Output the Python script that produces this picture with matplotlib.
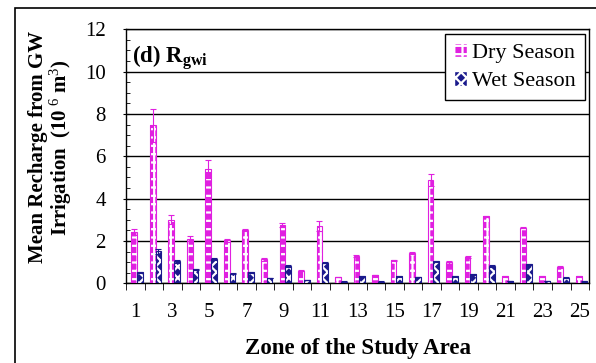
import numpy as np
import matplotlib
matplotlib.use("Agg")
import matplotlib.pyplot as plt
from matplotlib.patches import Rectangle, Patch
from matplotlib.ticker import MultipleLocator

zones = list(range(1, 26))
dry = [2.42, 7.46, 3.00, 2.11, 5.40, 2.03, 2.50, 1.13, 2.75, 0.59,
       2.71, 0.30, 1.28, 0.39, 1.08, 1.44, 4.88, 0.99, 1.25, 3.16,
       0.33, 2.63, 0.34, 0.77, 0.34]
dry_err = [0.16, 0.79, 0.22, 0.11, 0.42, 0.07, 0.05, 0.06, 0.10, 0.03,
           0.23, 0.02, 0.06, 0.02, 0.03, 0.06, 0.30, 0.06, 0.05, 0.04,
           0.02, 0.04, 0.02, 0.03, 0.02]
wet = [0.52, 1.52, 1.03, 0.67, 1.14, 0.45, 0.52, 0.26, 0.81, 0.15,
       0.98, 0.08, 0.34, 0.08, 0.34, 0.30, 1.03, 0.34, 0.42, 0.82,
       0.10, 0.89, 0.10, 0.26, 0.09]
wet_err = [0.02, 0.12, 0.07, 0.02, 0.06, 0.02, 0.02, 0.01, 0.04, 0.01,
           0.03, 0.01, 0.02, 0.01, 0.02, 0.02, 0.04, 0.02, 0.02, 0.03,
           0.01, 0.03, 0.01, 0.02, 0.01]

magenta = "#e020e0"
navy = "#1a1a8c"
plt.rcParams["font.family"] = ["Liberation Serif", "DejaVu Serif"]
plt.rcParams["mathtext.fontset"] = "custom"
plt.rcParams["mathtext.rm"] = "Liberation Serif"
plt.rcParams["mathtext.bf"] = "Liberation Serif:bold"
plt.rcParams["mathtext.it"] = "Liberation Serif:italic"
plt.rcParams["hatch.linewidth"] = 1.6

fig = plt.figure(figsize=(5.96, 3.63), dpi=100)
ax = fig.add_axes([0.2114, 0.2196, 0.9883 - 0.2114, 0.9193 - 0.2196])

x = np.arange(len(zones))
w = 0.31
xd = x + 0.1 - w / 2
xw = x + 0.1 + w / 2

ax.bar(xd, dry, w, color=magenta, edgecolor="white", hatch="++", linewidth=0, zorder=3)
ax.bar(xd, dry, w, fill=False, edgecolor=magenta, linewidth=0.8, zorder=4,
       yerr=dry_err, error_kw=dict(ecolor=magenta, elinewidth=0.8, capsize=2.5, capthick=0.8))
ax.bar(xw, wet, w, color=navy, edgecolor="white", hatch="xxx", linewidth=0, zorder=3)
ax.bar(xw, wet, w, fill=False, edgecolor=navy, linewidth=0.8, zorder=4,
       yerr=wet_err, error_kw=dict(ecolor=navy, elinewidth=0.8, capsize=2.5, capthick=0.8))

ax.set_xlim(-0.5, len(zones) - 0.5)
ax.set_ylim(0, 12)
ax.yaxis.set_major_locator(MultipleLocator(2))
ax.yaxis.set_minor_locator(MultipleLocator(0.5))
ax.grid(axis="y", color="black", linewidth=1.0, zorder=0)
ax.set_xticks(x[::2])
ax.set_xticklabels([str(z) for z in zones[::2]], fontsize=15)
ax.set_xticks(np.arange(-0.5, len(zones)), minor=True)
ax.tick_params(axis="x", which="major", length=0, pad=14)
ax.tick_params(axis="x", which="minor", length=5, direction="out")
ax.tick_params(axis="y", which="major", length=5, direction="inout", labelsize=15, pad=12)
ax.tick_params(axis="y", which="minor", length=3, direction="in")
for s in ax.spines.values():
    s.set_linewidth(1.0)

ax.text(0.012, 0.945, r"(d) R$_{\mathbf{gwi}}$", transform=ax.transAxes,
        fontsize=16.5, fontweight="bold", va="top", ha="left")

ax.set_xlabel("Zone of the Study Area", fontsize=16.5, fontweight="bold", labelpad=12)
ax.set_ylabel("Mean Recharge from GW\nIrrigation  (10$^{\\ 6}$ m$^{3}$)", fontsize=15,
              fontweight="bold", linespacing=1.0)
ax.yaxis.set_label_coords(-0.112, 0.535)

handles = [Patch(facecolor=magenta, edgecolor="white", hatch="++"),
           Patch(facecolor=navy, edgecolor="white", hatch="xxx")]
leg = ax.legend(handles, ["Dry Season", "Wet Season"], loc="upper right",
                fontsize=16, fancybox=False, edgecolor="black", framealpha=1,
                handlelength=0.6, handleheight=0.6, handletextpad=0.2,
                borderaxespad=0.2, labelspacing=0.4, borderpad=0.4)
leg.get_frame().set_linewidth(1.0)

fig.patches.append(Rectangle((15 / 596, -0.01), 1.0, 1 - 8 / 363 + 0.01,
                             transform=fig.transFigure, fill=False,
                             edgecolor="black", linewidth=1.2))

fig.savefig("out.png", dpi=100)
